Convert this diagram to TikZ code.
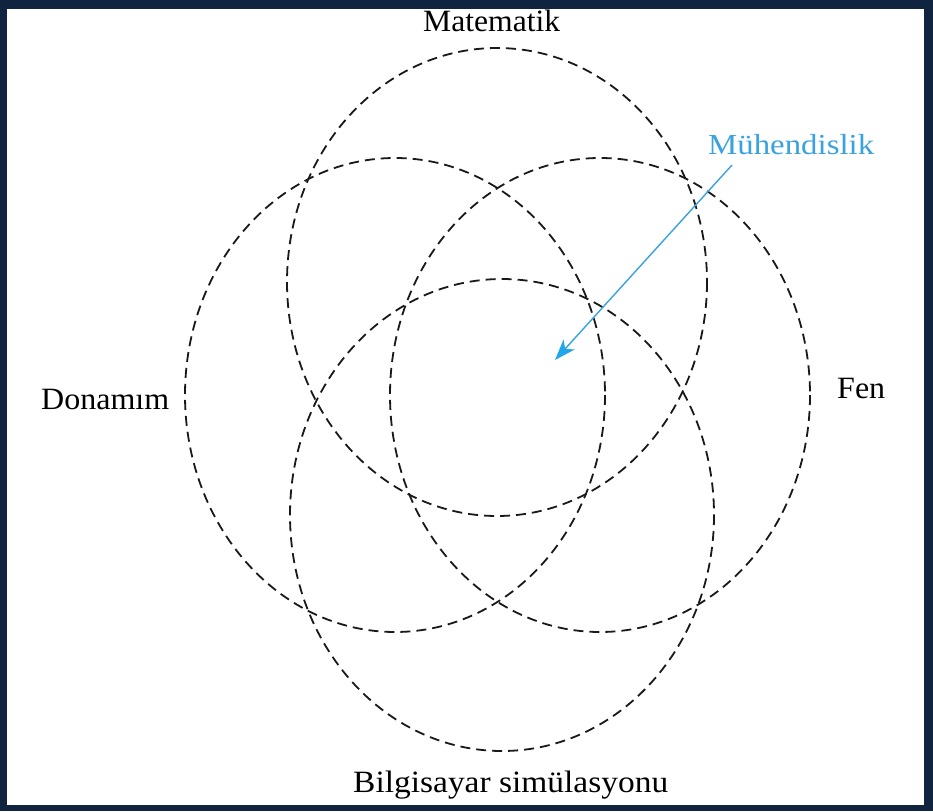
\documentclass[tikz,border=0pt]{standalone}
\usepackage{fontspec}
\setmainfont{Liberation Serif}
\usetikzlibrary{arrows.meta}
\definecolor{navyframe}{HTML}{10233F}
\definecolor{muhblue}{HTML}{3AA2DE}
\definecolor{tipblue}{HTML}{22A6EA}
\tikzset{
  ring/.style={draw=black!90, line width=1.8pt, dash pattern=on 10pt off 6pt},
  lbl/.style={anchor=base west, inner sep=0pt, font=\fontsize{31}{36}\selectfont, text=black},
  bluelbl/.style={anchor=base west, inner sep=0pt, font=\fontsize{29}{34}\selectfont, text=muhblue},
  bluearrow/.style={draw=muhblue, line width=1.4pt, -{Stealth[length=21pt,width=15pt,inset=6pt,color=tipblue]}}
}
\begin{document}
\begin{tikzpicture}[x=1pt,y=-1pt]
\useasboundingbox (0,0) rectangle (933,811);
\fill[navyframe] (0,0) rectangle (933,811);
\fill[white] (7,9) rectangle (924,805);
% circles
\draw[ring] (497,282) ellipse [x radius=210, y radius=234];
\draw[ring] (395,395) ellipse [x radius=210, y radius=237];
\draw[ring] (600,395) ellipse [x radius=210, y radius=237];
\draw[ring] (502,515) ellipse [x radius=212, y radius=236];
% labels
\node[lbl] (mat) at (423,31) {\resizebox{137pt}{\height}{Matematik}};
\node[lbl] (don) at (41,409) {\resizebox{128pt}{\height}{Donamım}};
\node[lbl] (fen) at (837,398) {\resizebox{48pt}{\height}{Fen}};
\node[lbl] (bil) at (353,792) {\resizebox{315pt}{\height}{Bilgisayar simülasyonu}};
\node[bluelbl] (muh) at (708,154) {\resizebox{166pt}{\height}{Mühendislik}};
% arrow
\coordinate (astart) at (732,165);
\coordinate (atip) at (555,360);
\draw[bluearrow] (astart) -- (atip);
\end{tikzpicture}
\end{document}
